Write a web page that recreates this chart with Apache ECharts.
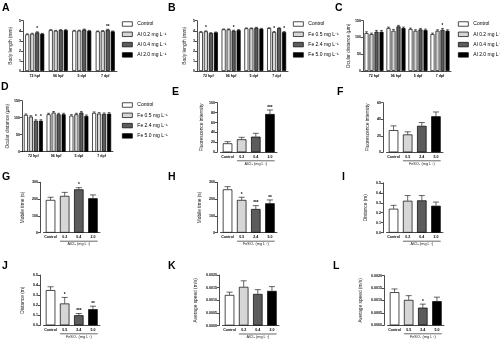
<!DOCTYPE html>
<html><head><meta charset="utf-8">
<script src="https://cdn.jsdelivr.net/npm/echarts@6/dist/echarts.min.js"></script>
<style>html,body{margin:0;padding:0;background:#fff}#c{width:500px;height:341px}</style>
</head><body><div id="c"></div>
<script>
// ---------- data ----------
const timeCats = ['72 hpf', '96 hpf', '5 dpf', '7 dpf'];
const alNames = ['Control', 'Al 0.2 mg L⁻¹', 'Al 0.4 mg L⁻¹', 'Al 2.0 mg L⁻¹'];
const feNames = ['Control', 'Fe 0.5 mg L⁻¹', 'Fe 2.4 mg L⁻¹', 'Fe 5.0 mg L⁻¹'];
const alCats = ['Control', '0.2', '0.4', '2.0'];
const feCats = ['Control', '0.5', '2.4', '5.0'];

// A: body length, Al (rows = group, cols = time point)
const bodyAl = [[3.64, 4.07, 4.00, 3.94], [3.70, 4.00, 4.02, 3.97], [3.84, 4.07, 4.12, 4.10], [3.70, 4.07, 4.00, 3.94]];
const bodyAlErr = [[0.05, 0.04, 0.04, 0.04], [0.05, 0.04, 0.04, 0.05], [0.06, 0.04, 0.05, 0.05], [0.04, 0.04, 0.04, 0.04]];
const bodyAlSig = [['', '', '', ''], ['', '', '', ''], ['*', '', '', '**'], ['', '', '', '']];
// B: body length, Fe
const bodyFe = [[3.87, 4.14, 4.24, 4.26], [3.94, 4.14, 4.24, 3.87], [3.77, 4.00, 4.30, 4.26], [3.84, 4.07, 4.20, 3.87]];
const bodyFeErr = [[0.05, 0.04, 0.04, 0.04], [0.05, 0.04, 0.04, 0.05], [0.04, 0.05, 0.04, 0.04], [0.04, 0.04, 0.04, 0.05]];
const bodyFeSig = [['', '', '', ''], ['*', '', '', '*'], ['', '*', '', ''], ['', '', '', '*']];
// C: ocular distance, Al
const ocuAl = [[113, 128, 125, 110], [110, 120, 120, 120], [117, 133, 124, 123], [117, 128, 122, 120]];
const ocuAlErr = [[4, 3, 3, 3], [3, 4, 3, 3], [4, 3, 3, 4], [4, 3, 3, 3]];
const ocuAlSig = [['', '', '', ''], ['', '', '', ''], ['', '', '', '*'], ['', '', '', '']];
// D: ocular distance, Fe
const ocuFe = [[108, 110, 106, 114], [103, 115, 110, 112], [91, 110, 115, 111], [91, 110, 105, 112]];
const ocuFeErr = [[3, 3, 3, 3], [3, 3, 3, 3], [3, 3, 3, 3], [3, 3, 3, 3]];
const ocuFeSig = [['', '', '', ''], ['', '', '', ''], ['*', '', '', ''], ['*', '', '', '']];

// E-L: single series panels
const fluoAl = [18.1, 26.2, 31.5, 77.2];      const fluoAlErr = [3.3, 4.0, 6.8, 8.1];   const fluoAlSig = ['', '', '', '***'];
const fluoFe = [26.8, 21.6, 32.0, 43.6];      const fluoFeErr = [5.2, 3.2, 4.0, 5.2];   const fluoFeSig = ['', '', '', ''];
const mobAl = [195, 219, 258, 205];           const mobAlErr = [16, 21, 10, 20];        const mobAlSig = ['', '', '*', ''];
const mobFe = [258, 195, 141, 175];           const mobFeErr = [16, 16, 20, 20];        const mobFeSig = ['', '*', '***', '**'];
const distAl = [0.240, 0.320, 0.324, 0.270];  const distAlErr = [0.034, 0.052, 0.048, 0.037]; const distAlSig = ['', '', '', ''];
const distFe = [0.350, 0.217, 0.100, 0.160];  const distFeErr = [0.033, 0.060, 0.017, 0.030]; const distFeSig = ['', '*', '***', '**'];
const spdAl = [0.00121, 0.00153, 0.00125, 0.00137]; const spdAlErr = [0.00011, 0.00024, 0.00017, 0.00017]; const spdAlSig = ['', '', '', ''];
const spdFe = [0.00133, 0.00102, 0.00071, 0.00097]; const spdFeErr = [0.00013, 0.00017, 0.00014, 0.00016]; const spdFeSig = ['', '', '*', ''];

// ---------- style ----------
const FONT = '"Liberation Sans", Arial, sans-serif';
const FILLS = ['#ffffff', '#d6d6d6', '#5c5c5c', '#000000'];
const LW = 0.7;

const chart = echarts.init(document.getElementById('c'), null, { renderer: 'canvas' });

const grids = [], xAxes = [], yAxes = [], series = [], legends = [], titles = [];
const brackets = [];

function yAxisCfg(gi, p) {
  return {
    gridIndex: gi, type: 'value', min: p.min, max: p.max, interval: p.interval, offset: p.offset || 0,
    axisLine: { show: true, lineStyle: { color: '#000', width: LW } },
    axisTick: { show: true, length: 2, lineStyle: { color: '#000', width: LW } },
    splitLine: { show: false },
    axisLabel: { fontSize: 3.6, fontWeight: 'bold', color: '#000', margin: 2, fontFamily: FONT,
      formatter: v => p.dec != null ? v.toFixed(p.dec) : String(v) },
    name: p.yName, nameLocation: 'middle', nameGap: p.nameGap,
    nameTextStyle: { fontSize: 4.8, color: '#222', fontFamily: FONT }
  };
}
function xAxisCfg(gi, cats) {
  return {
    gridIndex: gi, type: 'category', data: cats,
    axisLine: { lineStyle: { color: '#000', width: LW } },
    axisTick: { alignWithLabel: true, length: 2, lineStyle: { color: '#000', width: LW } },
    axisLabel: { interval: 0, fontSize: 3.6, fontWeight: 'bold', color: '#000', margin: 2.5, fontFamily: FONT }
  };
}
function errChildren(cx, by, ty, cap, sig) {
  const ch = [
    { type: 'line', shape: { x1: cx, y1: by, x2: cx, y2: ty }, style: { stroke: '#000', lineWidth: 0.6 } },
    { type: 'line', shape: { x1: cx - cap, y1: ty, x2: cx + cap, y2: ty }, style: { stroke: '#000', lineWidth: 0.6 } }
  ];
  if (sig) ch.push({ type: 'text', style: { text: sig, x: cx, y: ty - 0.2, align: 'center', verticalAlign: 'bottom',
    textAlign: 'center', textVerticalAlign: 'bottom', fontSize: 4.6, fontWeight: 'bold', fill: '#000', fontFamily: FONT } });
  return ch;
}

// grouped panels A-D
const groupedPanels = [
  { letter: 'A', lx: 2, ly: 2.4, g: { left: 23, top: 20.7, width: 94, height: 50.3 }, cats: timeCats, names: alNames,
    vals: bodyAl, errs: bodyAlErr, sigs: bodyAlSig, min: 0, max: 5, interval: 1, yName: 'Body length (mm)', nameGap: 10,
    leg: { left: 122, top: 21 } },
  { letter: 'B', lx: 168, ly: 2.4, g: { left: 197, top: 20.7, width: 91, height: 50.3 }, cats: timeCats, names: feNames,
    vals: bodyFe, errs: bodyFeErr, sigs: bodyFeSig, min: 0, max: 5, interval: 1, yName: 'Body length (mm)', nameGap: 10,
    leg: { left: 293, top: 21 } },
  { letter: 'C', lx: 335, ly: 2.4, g: { left: 363, top: 20.7, width: 88, height: 50.3 }, cats: timeCats, names: alNames,
    vals: ocuAl, errs: ocuAlErr, sigs: ocuAlSig, min: 0, max: 150, interval: 50, yName: 'Ocular distance (μm)', nameGap: 11,
    leg: { left: 458, top: 21 } },
  { letter: 'D', lx: 1, ly: 82, g: { left: 22, top: 100.7, width: 91, height: 51 }, cats: timeCats, names: feNames,
    vals: ocuFe, errs: ocuFeErr, sigs: ocuFeSig, min: 0, max: 150, interval: 50, yName: 'Ocular distance (μm)', nameGap: 11,
    leg: { left: 122, top: 102 } }
];
const BW = 4, BGAP = 0.25;
groupedPanels.forEach(p => {
  const gi = grids.length;
  grids.push(Object.assign({ outerBoundsMode: 'none', containLabel: false }, p.g));
  xAxes.push(xAxisCfg(gi, p.cats));
  yAxes.push(yAxisCfg(gi, p));
  const n = p.names.length;
  p.names.forEach((nm, k) => {
    series.push({ type: 'bar', name: nm, xAxisIndex: gi, yAxisIndex: gi, data: p.vals[k], barWidth: BW, barGap: (BGAP * 100) + '%',
      itemStyle: { color: FILLS[k], borderColor: '#000', borderWidth: LW }, silent: true });
  });
  p.names.forEach((nm, k) => {
    const sigArr = p.sigs[k];
    series.push({ type: 'custom', xAxisIndex: gi, yAxisIndex: gi, silent: true, z: 5,
      data: p.vals[k].map((v, i) => [i, v, p.errs[k][i]]),
      renderItem: (params, api) => {
        const ci = api.value(0), v = api.value(1), e = api.value(2);
        const b = api.coord([ci, v]), t = api.coord([ci, v + e]);
        const gap = BW * BGAP, total = n * BW + (n - 1) * gap;
        const cx = b[0] - total / 2 + k * (BW + gap) + BW / 2;
        return { type: 'group', children: errChildren(cx, b[1], t[1], BW * 0.35, sigArr[params.dataIndex]) };
      } });
  });
  legends.push({ orient: 'vertical', left: p.leg.left, top: p.leg.top, data: p.names, icon: 'rect',
    itemWidth: 10, itemHeight: 4.5, itemGap: 4.3, selectedMode: false, padding: 0,
    itemStyle: { borderColor: '#000', borderWidth: LW },
    textStyle: { fontSize: 5, lineHeight: 6, color: '#000', fontFamily: FONT } });
  titles.push({ text: p.letter, left: p.lx, top: p.ly, padding: 0,
    textStyle: { fontSize: 10.5, fontWeight: 'bold', color: '#000', fontFamily: FONT } });
});

// single panels E-L
const singlePanels = [
  { letter: 'E', lx: 172, ly: 87, ax: 217, top: 102.7, h: 49.6, cats: alCats, vals: fluoAl, errs: fluoAlErr, sigs: fluoAlSig,
    min: 0, max: 100, interval: 20, yName: 'Fluorescence intensity', nameGap: 12.5, xTitle: 'AlCl₃ (mg L⁻¹)' },
  { letter: 'F', lx: 337, ly: 87, ax: 383, top: 102.7, h: 49.6, cats: feCats, vals: fluoFe, errs: fluoFeErr, sigs: fluoFeSig,
    min: 0, max: 60, interval: 20, yName: 'Fluorescence intensity', nameGap: 12.5, xTitle: 'FeSO₄ (mg L⁻¹)' },
  { letter: 'G', lx: 2, ly: 172, ax: 40, top: 182.3, h: 50.4, cats: alCats, vals: mobAl, errs: mobAlErr, sigs: mobAlSig,
    min: 0, max: 300, interval: 100, yName: 'Mobile time (s)', nameGap: 15, xTitle: 'AlCl₃ (mg L⁻¹)' },
  { letter: 'H', lx: 168, ly: 172, ax: 217, top: 182.3, h: 50.4, cats: feCats, vals: mobFe, errs: mobFeErr, sigs: mobFeSig,
    min: 0, max: 300, interval: 100, yName: 'Mobile time (s)', nameGap: 15, xTitle: 'FeSO₄ (mg L⁻¹)' },
  { letter: 'I', lx: 342, ly: 172, ax: 383, top: 182.8, h: 49.9, cats: alCats, vals: distAl, errs: distAlErr, sigs: distAlSig,
    min: 0, max: 0.5, interval: 0.1, dec: 1, yName: 'Distance (m)', nameGap: 15, xTitle: 'AlCl₃ (mg L⁻¹)' },
  { letter: 'J', lx: 2, ly: 261, ax: 40, top: 275, h: 50.3, cats: feCats, vals: distFe, errs: distFeErr, sigs: distFeSig,
    min: 0, max: 0.5, interval: 0.1, dec: 1, yName: 'Distance (m)', nameGap: 15, xTitle: 'FeSO₄ (mg L⁻¹)' },
  { letter: 'K', lx: 168, ly: 261, ax: 219, top: 275, h: 50.5, cats: alCats, vals: spdAl, errs: spdAlErr, sigs: spdAlSig,
    min: 0, max: 0.002, interval: 0.0005, dec: 4, yName: 'Average speed (m/s)', nameGap: 21, xTitle: 'AlCl₃ (mg L⁻¹)' },
  { letter: 'L', lx: 333, ly: 261, ax: 384, top: 275.5, h: 49.8, cats: feCats, vals: spdFe, errs: spdFeErr, sigs: spdFeSig,
    min: 0, max: 0.002, interval: 0.0005, dec: 4, yName: 'Average speed (m/s)', nameGap: 21, xTitle: 'FeSO₄ (mg L⁻¹)' }
];
const SBW = 9.5, OFF = 3.5;
singlePanels.forEach(p => {
  const gi = grids.length;
  p.gi = gi;
  grids.push({ left: p.ax + OFF, top: p.top, width: 56.5, height: p.h, outerBoundsMode: 'none', containLabel: false });
  xAxes.push(xAxisCfg(gi, p.cats));
  yAxes.push(yAxisCfg(gi, Object.assign({ offset: OFF }, p)));
  series.push({ type: 'bar', xAxisIndex: gi, yAxisIndex: gi, barWidth: SBW, silent: true,
    data: p.vals.map((v, i) => ({ value: v, itemStyle: { color: FILLS[i] } })),
    itemStyle: { borderColor: '#000', borderWidth: LW } });
  series.push({ type: 'custom', xAxisIndex: gi, yAxisIndex: gi, silent: true, z: 5,
    data: p.vals.map((v, i) => [i, v, p.errs[i]]),
    renderItem: (params, api) => {
      const ci = api.value(0), v = api.value(1), e = api.value(2);
      const b = api.coord([ci, v]), t = api.coord([ci, v + e]);
      return { type: 'group', children: errChildren(b[0], b[1], t[1], SBW * 0.32, p.sigs[params.dataIndex]) };
    } });
  titles.push({ text: p.letter, left: p.lx, top: p.ly, padding: 0,
    textStyle: { fontSize: 10.5, fontWeight: 'bold', color: '#000', fontFamily: FONT } });
});

chart.setOption({
  animation: false,
  backgroundColor: '#fff',
  textStyle: { fontFamily: FONT },
  title: titles, grid: grids, xAxis: xAxes, yAxis: yAxes, legend: legends, series: series
});

// bracket lines + x-axis titles under E-L, positioned through the axes
const gfx = [];
singlePanels.forEach(p => {
  const x1 = chart.convertToPixel({ xAxisIndex: p.gi }, 1) - SBW / 2;
  const x2 = chart.convertToPixel({ xAxisIndex: p.gi }, 3) + SBW / 2;
  const yb = chart.convertToPixel({ yAxisIndex: p.gi }, 0);
  const yl = yb + 8.5;
  gfx.push({ type: 'line', shape: { x1: x1, y1: yl, x2: x2, y2: yl }, style: { stroke: '#000', lineWidth: 0.6 }, silent: true });
  gfx.push({ type: 'text', x: (x1 + x2) / 2, y: yl + 0.8, silent: true,
    style: { text: p.xTitle, fontSize: 3.8, fill: '#222', fontFamily: FONT,
      align: 'center', verticalAlign: 'top', textAlign: 'center', textVerticalAlign: 'top' } });
});
chart.setOption({ graphic: gfx });
</script></body></html>
